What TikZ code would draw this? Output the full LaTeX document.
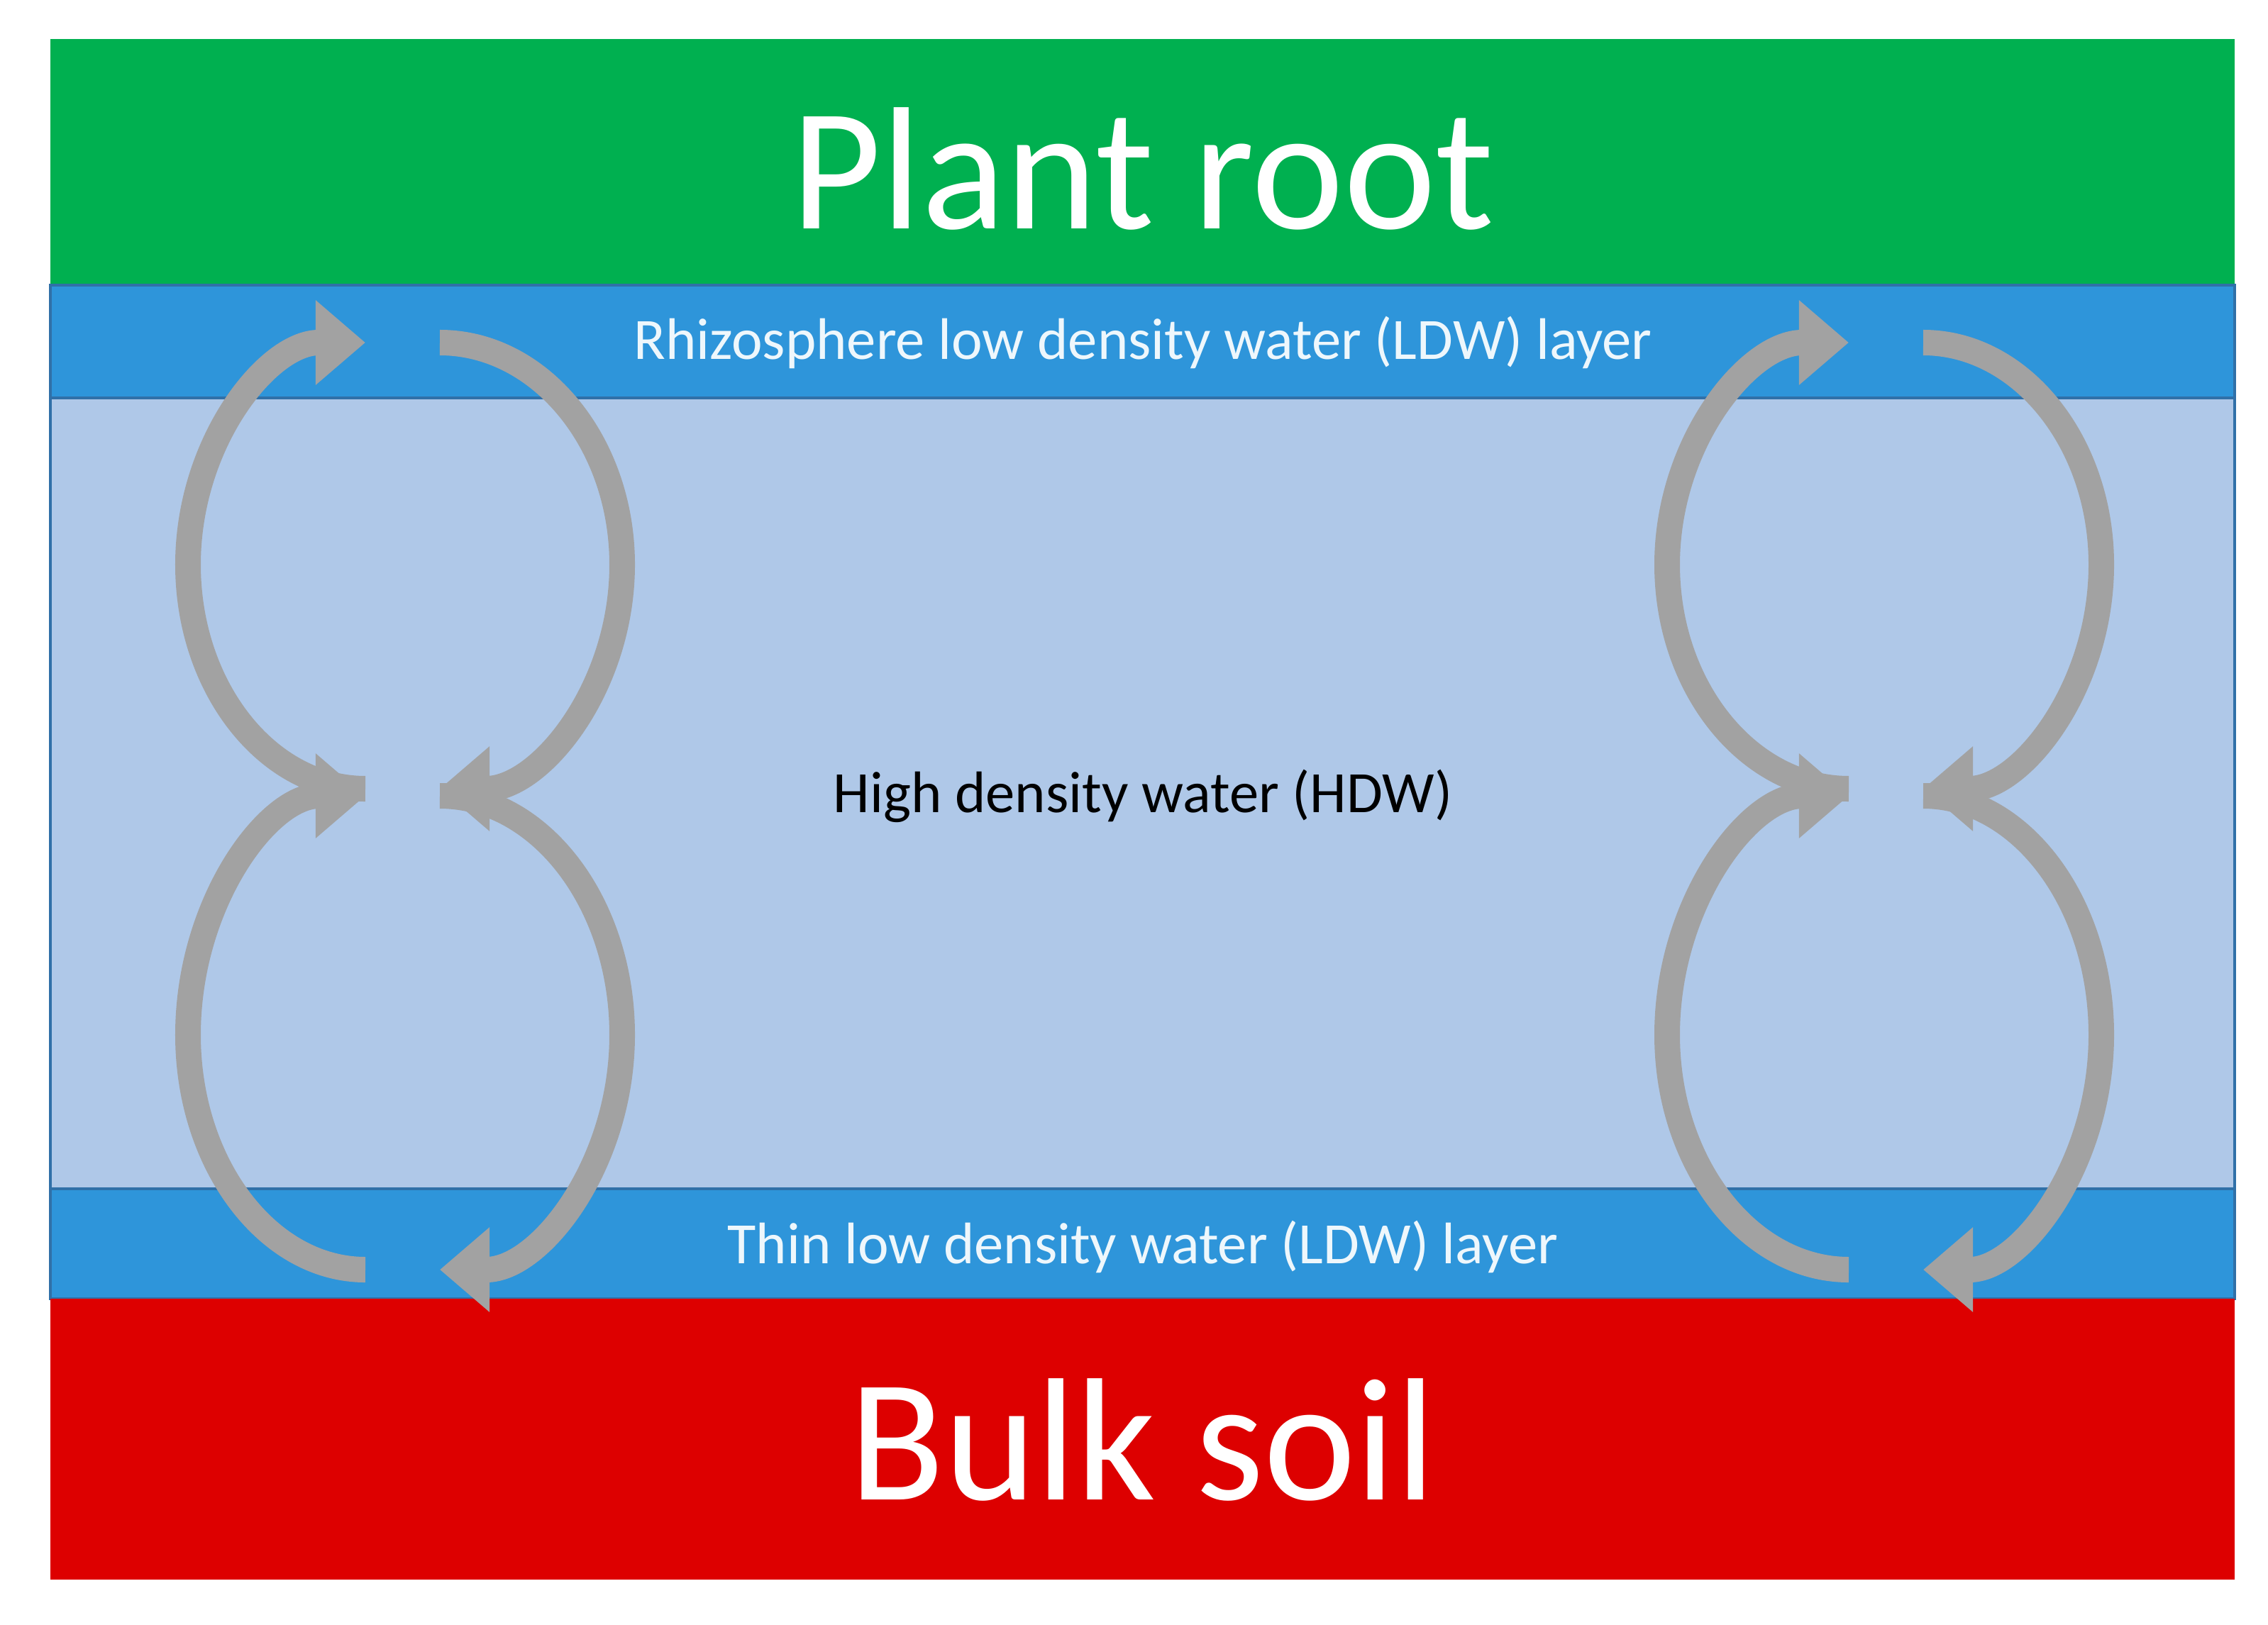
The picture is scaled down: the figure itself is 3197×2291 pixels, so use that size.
\documentclass[tikz,border=0pt]{standalone}
\usepackage{fontspec}
\setmainfont{Carlito}
\usetikzlibrary{arrows.meta}
\definecolor{rootgreen}{HTML}{00B050}
\definecolor{ldw}{HTML}{2E95DA}
\definecolor{hdw}{HTML}{AFC8E8}
\definecolor{soilred}{HTML}{DD0000}
\definecolor{edge}{HTML}{3070A8}
\definecolor{arr}{HTML}{A2A2A2}
\begin{document}
\begin{tikzpicture}[x=0.01cm,y=-0.01cm,
  layer/.style={draw=edge,line width=1pt},
  flow/.style={draw=arr,line width=0.36cm,-{Triangle[width=1.15cm,length=0.7cm]}},
  big/.style={text=white,font=\fontsize{70}{80}\selectfont},
  band/.style={text=white!92!ldw,font=\fontsize{23.5}{26}\selectfont}]
\useasboundingbox (0,0) rectangle (3197,2291);
\fill[white] (0,0) rectangle (3197,2291);
\fill[rootgreen] (71,55) rectangle (3150,402);
\fill[ldw,layer] (71,402) rectangle (3150,561);
\fill[hdw,layer] (71,561) rectangle (3150,1676);
\fill[ldw,layer] (71,1676) rectangle (3150,1831);
\fill[soilred] (71,1831) rectangle (3150,2227);
\node[big] (root) at (1611,238) {Plant root};
\node[big] (soil) at (1611,2030) {Bulk soil};
\node[band] (rhizo) at (1611,483) {Rhizosphere low density water (LDW) layer};
\node[font=\fontsize{23.5}{26}\selectfont] (hdwt) at (1611,1122) {High density water (HDW)};
\node[band] (thin) at (1611,1758) {Thin low density water (LDW) layer};
\foreach \a/\b/\lo/\ro in {515/620/265/877, 2606/2711/2350/2962}{
  \draw[flow] (\a,1112) .. controls ({\a-0.55*(\a-\lo)},1112) and (\lo,{796+0.55*316}) .. (\lo,796)
     .. controls (\lo,{796-0.55*313}) and ({\a-0.55*(\a-\lo)},483) .. (\a,483);
  \draw[flow] (\b,483) .. controls ({\b+0.55*(\ro-\b)},483) and (\ro,{796-0.55*313}) .. (\ro,796)
     .. controls (\ro,{796+0.55*316}) and ({\b+0.55*(\ro-\b)},1112) .. (\b,1112);
  \draw[flow] (\a,1790) .. controls ({\a-0.55*(\a-\lo)},1790) and (\lo,{1459+0.55*331}) .. (\lo,1459)
     .. controls (\lo,{1459-0.55*337}) and ({\a-0.55*(\a-\lo)},1122) .. (\a,1122);
  \draw[flow] (\b,1122) .. controls ({\b+0.55*(\ro-\b)},1122) and (\ro,{1459-0.55*337}) .. (\ro,1459)
     .. controls (\ro,{1459+0.55*331}) and ({\b+0.55*(\ro-\b)},1790) .. (\b,1790);
}
\end{tikzpicture}
\end{document}
